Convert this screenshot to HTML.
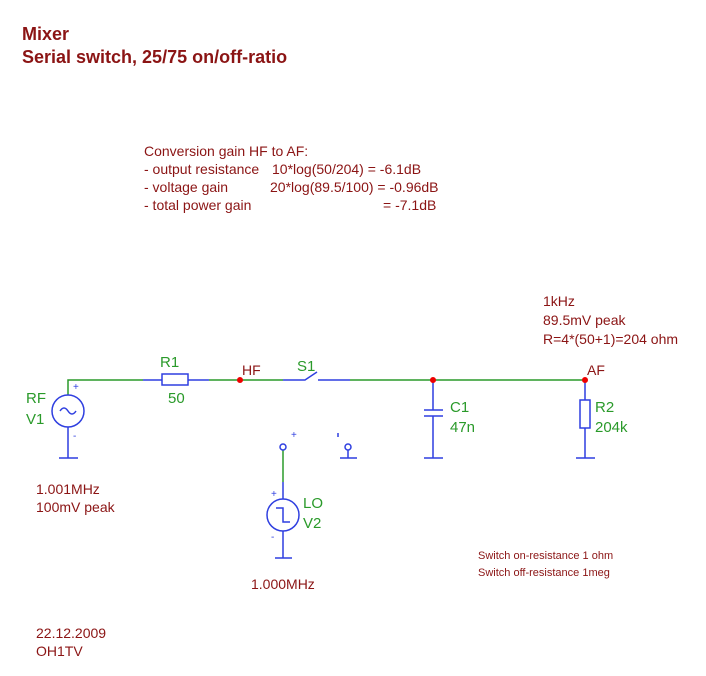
<!DOCTYPE html>
<html><head><style>
body{margin:0;background:#fff;}
svg text{font-family:"Liberation Sans",Arial,sans-serif;}
</style></head><body>
<svg width="706" height="671" viewBox="0 0 706 671" xmlns="http://www.w3.org/2000/svg">
<g fill="#8b1414" font-weight="bold" font-size="18">
<text x="22" y="40">Mixer</text>
<text x="22" y="63">Serial switch, 25/75 on/off-ratio</text>
</g>
<g fill="#8b1414" font-size="14">
<text x="144" y="156">Conversion gain HF to AF:</text>
<text x="144" y="174">- output resistance</text>
<text x="272" y="174">10*log(50/204) = -6.1dB</text>
<text x="144" y="192">- voltage gain</text>
<text x="270" y="192">20*log(89.5/100) = -0.96dB</text>
<text x="144" y="210">- total power gain</text>
<text x="383" y="210">= -7.1dB</text>
<text x="543" y="306">1kHz</text>
<text x="543" y="325">89.5mV peak</text>
<text x="543" y="344">R=4*(50+1)=204 ohm</text>
<text x="36" y="494">1.001MHz</text>
<text x="36" y="512">100mV peak</text>
<text x="251" y="589">1.000MHz</text>
<text x="36" y="638">22.12.2009</text>
<text x="36" y="656">OH1TV</text>
<text x="242" y="375">HF</text>
<text x="587" y="375">AF</text>
</g>
<g fill="#8b1414" font-size="11">
<text x="478" y="559">Switch on-resistance 1 ohm</text>
<text x="478" y="576">Switch off-resistance 1meg</text>
</g>
<g stroke="#2a9a2a" stroke-width="1.5" fill="none">
<path d="M68 395 V380 H143"/>
<path d="M209 380 H283"/>
<path d="M350 380 H585"/>
<path d="M283 450 V482"/>
</g>
<g stroke="#2f3fe0" stroke-width="1.5" fill="none">
<circle cx="68" cy="411" r="16"/>
<path d="M60 411 q4 -6 8 0 t8 0"/>
<path d="M68 427 V458 M59 458 H78"/>
<path d="M143 380 H162 M188 380 H209"/>
<rect x="162" y="374" width="26" height="11"/>
<path d="M283 380 H305 L317 372 M318 380 H350"/>
<path d="M433 380 V410 M424 410 H443 M424 416 H443 M433 416 V458 M424 458 H443"/>
<path d="M585 380 V400 M585 428 V458 M576 458 H595"/>
<rect x="580" y="400" width="10" height="28"/>
<circle cx="283" cy="447" r="3"/>
<circle cx="348" cy="447" r="3"/>
<path d="M348 450 V458 M340 458 H357 M338 433 V437"/>
<path d="M283 482 V499"/>
<circle cx="283" cy="515" r="16"/>
<path d="M276 508 H283 V522 H290"/>
<path d="M283 531 V558 M275 558 H292"/>
</g>
<g fill="#2f3fe0" font-size="10">
<text x="73" y="390">+</text>
<text x="73" y="439">-</text>
<text x="291" y="438">+</text>
<text x="271" y="497">+</text>
<text x="271" y="540">-</text>
</g>
<g fill="#e00">
<circle cx="240" cy="380" r="3"/>
<circle cx="433" cy="380" r="3"/>
<circle cx="585" cy="380" r="3"/>
</g>
<g fill="#2a9a2a" font-size="15">
<text x="26" y="403">RF</text>
<text x="26" y="424">V1</text>
<text x="160" y="367">R1</text>
<text x="168" y="403">50</text>
<text x="297" y="371">S1</text>
<text x="450" y="412">C1</text>
<text x="450" y="432">47n</text>
<text x="595" y="412">R2</text>
<text x="595" y="432">204k</text>
<text x="303" y="508">LO</text>
<text x="303" y="528">V2</text>
</g>
</svg>
</body></html>
